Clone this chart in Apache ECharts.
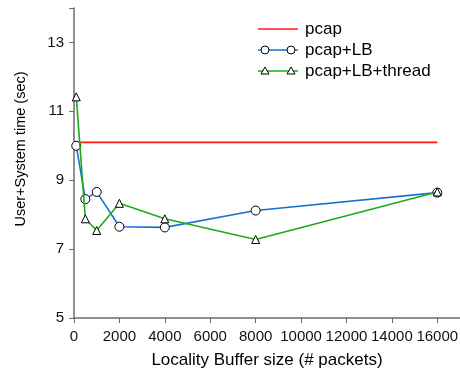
<!DOCTYPE html>
<html>
<head>
<meta charset="utf-8">
<script src="https://cdn.jsdelivr.net/npm/echarts@6/dist/echarts.min.js"></script>
<style>
  html, body { margin: 0; padding: 0; background: #fff; }
  #chart { width: 460px; height: 371px; }
</style>
</head>
<body>
<div id="chart"></div>
<script>
// Buffer sizes (packets) used in the runs
const bufferSizes = [100, 500, 1000, 2000, 4000, 8000, 16000];
// User+System time (sec)
const pcapTime = 10.1;
const pcapLB = [10.0, 8.45, 8.66, 7.65, 7.63, 8.12, 8.64];
const pcapLBThread = [11.42, 7.88, 7.54, 8.33, 7.88, 7.28, 8.66];
const pcapRange = [100, 16000];

const FONT = '"Liberation Sans", Arial, sans-serif';
const AXIS_COLOR = '#6b6b6b';
const RED = '#ff1a1a';
const BLUE = '#1a6fd3';
const GREEN = '#1cab1c';

const pair = (xs, ys) => xs.map((x, i) => [x, ys[i]]);

const chart = echarts.init(document.getElementById('chart'), null, { renderer: 'canvas' });

// Legend drawn as graphics so each entry shows a marker at both ends of its line
const legendRows = [
  { name: 'pcap', color: RED, symbol: null, y: 29 },
  { name: 'pcap+LB', color: BLUE, symbol: 'circle', y: 50 },
  { name: 'pcap+LB+thread', color: GREEN, symbol: 'triangle', y: 71 }
];
const legendGraphics = [];
legendRows.forEach(r => {
  legendGraphics.push({
    type: 'line', shape: { x1: 258, y1: r.y, x2: 298, y2: r.y },
    style: { stroke: r.color, lineWidth: 1.6 }, z: 10
  });
  [265, 291].forEach(cx => {
    if (r.symbol === 'circle') {
      legendGraphics.push({
        type: 'circle', shape: { cx: cx, cy: r.y, r: 4 },
        style: { fill: '#fff', stroke: '#000', lineWidth: 1 }, z: 11
      });
    } else if (r.symbol === 'triangle') {
      legendGraphics.push({
        type: 'polygon', shape: { points: [[cx, r.y - 4], [cx - 4, r.y + 3], [cx + 4, r.y + 3]] },
        style: { fill: '#fff', stroke: '#000', lineWidth: 1 }, z: 11
      });
    }
  });
  legendGraphics.push({
    type: 'text', x: 305, y: r.y,
    style: { text: r.name, fill: '#000', font: '17px ' + FONT, textVerticalAlign: 'middle', textAlign: 'left' },
    z: 11
  });
});

chart.setOption({
  animation: false,
  backgroundColor: '#fff',
  grid: { left: 74, right: 0, top: 8, bottom: 53, containLabel: false, outerBoundsMode: 'none' },
  xAxis: {
    type: 'value', min: 0, max: 17000, interval: 2000,
    name: 'Locality Buffer size (# packets)', nameLocation: 'middle', nameGap: 34,
    nameTextStyle: { fontFamily: FONT, fontSize: 17, color: '#000' },
    axisLine: { show: true, lineStyle: { color: AXIS_COLOR, width: 1.5 } },
    axisTick: { show: true, inside: false, length: 5, lineStyle: { color: AXIS_COLOR, width: 1 } },
    axisLabel: {
      fontFamily: FONT, fontSize: 15, color: '#111', margin: 11,
      formatter: v => (v <= 16000 ? String(v) : '')
    },
    splitLine: { show: false }
  },
  yAxis: {
    type: 'value', min: 5, max: 14, interval: 2,
    axisLine: { show: true, lineStyle: { color: AXIS_COLOR, width: 1.5 } },
    axisTick: { show: true, inside: false, length: 5, lineStyle: { color: AXIS_COLOR, width: 1 } },
    axisLabel: {
      fontFamily: FONT, fontSize: 15, color: '#111', margin: 10,
      formatter: v => ((v - 5) % 2 === 0 && v <= 13 ? String(v) : '')
    },
    splitLine: { show: false }
  },
  graphic: [
    {
      type: 'text', x: 21, y: 149, rotation: Math.PI / 2,
      style: { text: 'User+System time (sec)', fill: '#000', font: '14.5px ' + FONT, textAlign: 'center', textVerticalAlign: 'middle' }
    }
  ].concat(legendGraphics),
  series: [
    {
      name: 'pcap', type: 'line',
      data: pcapRange.map(x => [x, pcapTime]),
      showSymbol: false, symbol: 'none',
      lineStyle: { color: RED, width: 1.6 }, z: 1
    },
    {
      name: 'pcap+LB', type: 'line',
      data: pair(bufferSizes, pcapLB),
      symbol: 'circle', symbolSize: 9,
      itemStyle: { color: '#fff', borderColor: '#000', borderWidth: 1 },
      lineStyle: { color: BLUE, width: 1.6 }, z: 2
    },
    {
      name: 'pcap+LB+thread', type: 'line',
      data: pair(bufferSizes, pcapLBThread),
      symbol: 'triangle', symbolSize: 8,
      itemStyle: { color: '#fff', borderColor: '#000', borderWidth: 1 },
      lineStyle: { color: GREEN, width: 1.6 }, z: 3
    }
  ]
});
</script>
</body>
</html>
